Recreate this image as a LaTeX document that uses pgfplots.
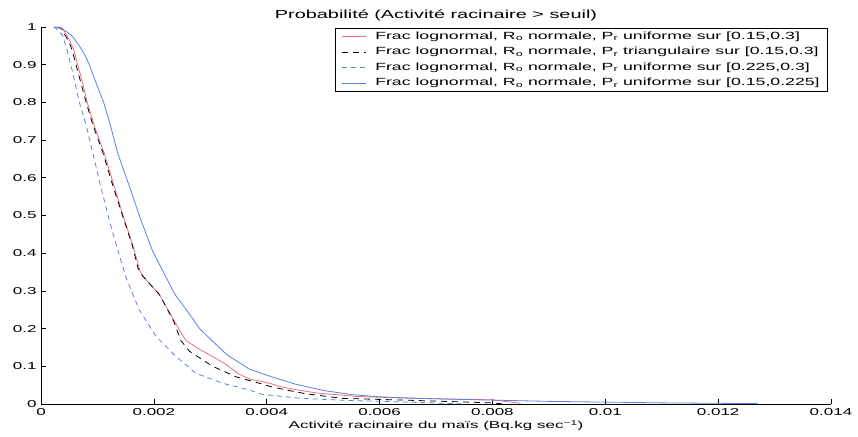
\documentclass[border=0pt]{standalone}
\usepackage{fontspec}
\setmainfont{Liberation Sans}[FakeStretch=1.7]
\usepackage{pgfplots}
\pgfplotsset{compat=1.18}
\usetikzlibrary{calc}
\definecolor{cred}{RGB}{236,112,124}
\definecolor{cblue}{RGB}{92,128,228}
\begin{document}
\begin{tikzpicture}
\begin{axis}[
  scale only axis, width=790pt, height=377pt,
  xmin=0, xmax=0.014, ymin=0, ymax=1,
  axis x line*=bottom, axis y line*=left,
  axis line style={-, black, line width=0.8pt},
  tick align=inside, major tick length=5pt,
  tick style={black, line width=0.7pt},
  xtick={0,0.002,0.004,0.006,0.008,0.01,0.012,0.014},
  xticklabels={0,0.002,0.004,0.006,0.008,0.01,0.012,0.014},
  ytick={0,0.1,0.2,0.3,0.4,0.5,0.6,0.7,0.8,0.9,1},
  yticklabels={0,0.1,0.2,0.3,0.4,0.5,0.6,0.7,0.8,0.9,1},
  scaled x ticks=false,
  ticklabel style={font=\fontsize{10}{12}\selectfont},
  xticklabel style={yshift=-1pt},
  yticklabel style={xshift=-1pt},
  title={Probabilité (Activité racinaire > seuil)},
  title style={font=\fontsize{11.7}{13}\selectfont, yshift=-3pt},
  xlabel={Activité racinaire du maïs (Bq.kg sec\textsuperscript{−1})},
  xlabel style={font=\fontsize{10}{12}\selectfont, yshift=2pt},
  clip=false,
  legend style={at={(rel axis cs:1,1)}, anchor=north east, xshift=-3pt, yshift=-1pt,
    draw=black, line width=0.7pt, font=\fontsize{10.4}{13}\selectfont,
    row sep=2.5pt, column sep=7pt, inner sep=1.5pt, inner xsep=6pt},
  legend cell align=left,
  legend image code/.code={\draw[#1, line width=0.8pt] (0pt,0pt) -- (24pt,0pt);},
]
\path (rel axis cs:0,0) ++(-41pt,-32pt) rectangle ($(rel axis cs:1,1)+(27pt,27pt)$);
% red: uniforme [0.15,0.3]
\addplot[cred, line width=0.8pt] coordinates {
(0.0003,1) (0.00038,0.997) (0.0005,0.966) (0.00058,0.94) (0.00065,0.9) (0.00074,0.85)
(0.00082,0.8) (0.00094,0.74) (0.00112,0.665) (0.0013,0.576) (0.00148,0.488) (0.00163,0.42)
(0.00175,0.355) (0.0018,0.34) (0.0021,0.29) (0.0024,0.21)
(0.00257,0.168) (0.00281,0.145) (0.00305,0.125) (0.00328,0.105) (0.0035,0.08) (0.0037,0.066)
(0.004,0.057) (0.0043,0.044) (0.0046,0.036) (0.0049,0.029) (0.0056,0.02) (0.0066,0.015)
(0.008,0.011) (0.0085,0.002)
};
\addlegendentry{Frac lognormal, R\textsubscript{o} normale, P\textsubscript{r} uniforme sur [0.15,0.3]}
% black dashed: triangulaire
\addplot[black, line width=0.8pt, dash pattern=on 6pt off 5pt] coordinates {
(0.00028,1) (0.00036,0.995) (0.00048,0.965) (0.00055,0.94) (0.00062,0.9) (0.00071,0.85)
(0.0008,0.8) (0.00092,0.74) (0.0011,0.665) (0.00128,0.576) (0.00147,0.488) (0.00162,0.42)
(0.00172,0.36) (0.0018,0.34) (0.0021,0.29) (0.00235,0.22) (0.00248,0.168) (0.00263,0.14) (0.00304,0.10)
(0.00346,0.072) (0.00387,0.055) (0.00405,0.047) (0.00435,0.037) (0.0047,0.027)
(0.00534,0.015) (0.0065,0.01) (0.008,0.003) (0.0082,0)
};
\addlegendentry{Frac lognormal, R\textsubscript{o} normale, P\textsubscript{r} triangulaire sur [0.15,0.3]}
% blue dashed: uniforme [0.225,0.3]
\addplot[cblue, line width=0.8pt, dash pattern=on 5pt off 4pt] coordinates {
(0.00022,1) (0.00026,0.997) (0.00038,0.979) (0.00046,0.94) (0.00053,0.9) (0.00068,0.8)
(0.0008,0.74) (0.00092,0.665) (0.00106,0.576) (0.00121,0.488) (0.0013,0.44) (0.0015,0.338)
(0.00174,0.25) (0.00204,0.179) (0.0024,0.125) (0.00275,0.081) (0.00322,0.055) (0.0037,0.037)
(0.0039,0.026) (0.00435,0.019) (0.0046,0.015) (0.0055,0.009) (0.0063,0.006) (0.0075,0)
};
\addlegendentry{Frac lognormal, R\textsubscript{o} normale, P\textsubscript{r} uniforme sur [0.225,0.3]}
% blue solid: uniforme [0.15,0.225]
\addplot[cblue, line width=0.8pt] coordinates {
(0.00024,1) (0.00032,0.998) (0.00045,0.988) (0.00056,0.975) (0.00068,0.95) (0.00078,0.925)
(0.000857,0.9) (0.00098,0.85) (0.00111,0.8) (0.00122,0.745) (0.00136,0.665) (0.00157,0.576)
(0.00177,0.488) (0.00198,0.405) (0.0021,0.37) (0.00234,0.30) (0.0024,0.285) (0.0026,0.245)
(0.00281,0.2) (0.00305,0.165) (0.0033,0.13) (0.0037,0.092) (0.00405,0.074) (0.0045,0.053)
(0.005,0.036) (0.0055,0.025) (0.006,0.019) (0.0065,0.016) (0.0072,0.013) (0.0081,0.01)
(0.009,0.007) (0.01,0.005) (0.011,0.003) (0.0127,0.001)
};
\addlegendentry{Frac lognormal, R\textsubscript{o} normale, P\textsubscript{r} uniforme sur [0.15,0.225]}
\end{axis}
\end{tikzpicture}
\end{document}
